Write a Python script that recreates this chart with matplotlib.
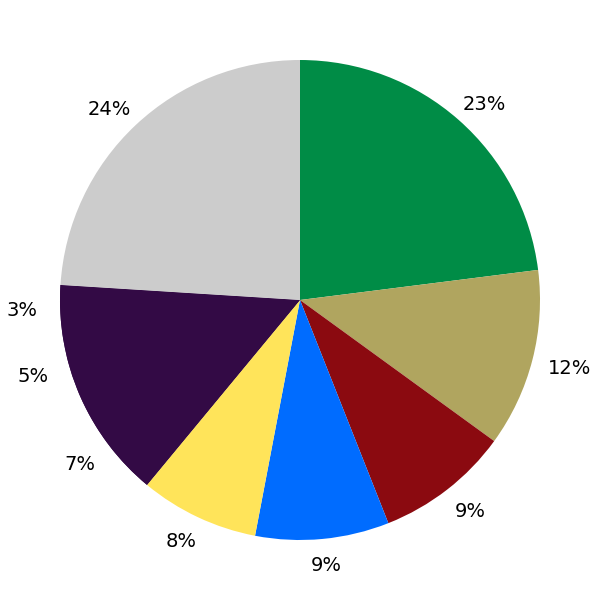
import matplotlib
matplotlib.use("Agg")
import matplotlib.pyplot as plt
from matplotlib.patches import Wedge

values = [23, 12, 9, 9, 8, 7, 5, 3, 24]
colors = ["#008C46", "#B0A55F", "#8B0A10", "#006CFF", "#FFE45A",
          "#330A45", "#330A45", "#330A45", "#CCCCCC"]

fig = plt.figure(figsize=(6, 6), dpi=100)
ax = fig.add_axes([0, 0, 1, 1])
wedges, texts, autotexts = ax.pie(
    values, colors=colors, startangle=90, counterclock=False,
    autopct="%d%%", pctdistance=1.1,
    textprops={"fontsize": 14, "color": "black"})

# underlay for the same-coloured wedges so no antialiasing seams show
purple = [w for w, c in zip(wedges, colors) if c == "#330A45"]
t1 = min(w.theta1 for w in purple)
t2 = max(w.theta2 for w in purple)
under = Wedge(purple[0].center, purple[0].r, t1, t2,
              facecolor="#330A45", edgecolor="none", zorder=0.5)
ax.add_patch(under)

# labels sit on a slightly wider ellipse in the reference
for t in autotexts:
    x, y = t.get_position()
    t.set_position((x * 1.16 / 1.1, y - 0.01))
ax.set_xlim(-1.25, 1.25)
ax.set_ylim(-1.25, 1.25)
ax.set_aspect("equal")
ax.axis("off")
fig.savefig("out.png", dpi=100)
